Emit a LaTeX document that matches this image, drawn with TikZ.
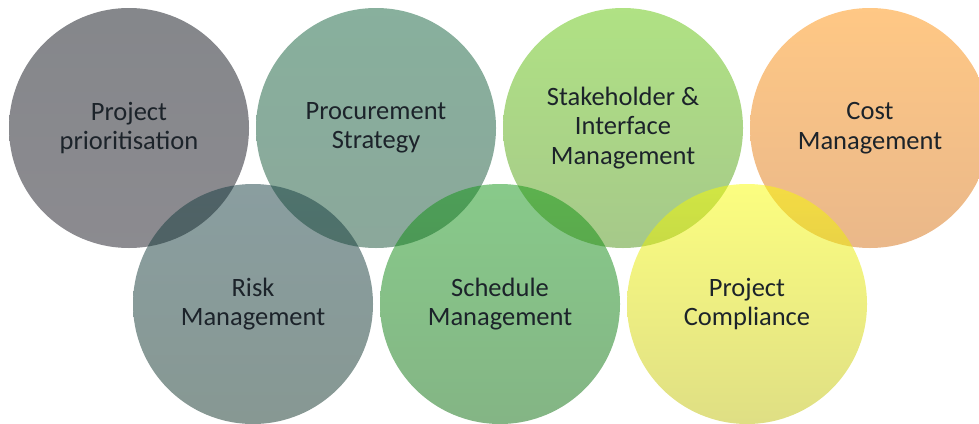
\documentclass[tikz,border=0pt]{standalone}
\usepackage{fontspec}
\setmainfont{Carlito}
\definecolor{Label}{HTML}{1C232A}
\definecolor{SlateTop}{HTML}{0B0F17}
\definecolor{SlateLow}{HTML}{191721}
\definecolor{PineTop}{HTML}{11613B}
\definecolor{PineLow}{HTML}{175137}
\definecolor{LimeTop}{HTML}{61C509}
\definecolor{LimeLow}{HTML}{4D9315}
\definecolor{AmberTop}{HTML}{FF910B}
\definecolor{AmberLow}{HTML}{D57115}
\definecolor{TealTop}{HTML}{153D41}
\definecolor{TealLow}{HTML}{0F3127}
\definecolor{LeafTop}{HTML}{119515}
\definecolor{LeafLow}{HTML}{096B0B}
\definecolor{SunTop}{HTML}{F9FD01}
\definecolor{SunLow}{HTML}{BFBF09}
\tikzset{
  ringbase/.style={circle,minimum size=240pt,inner sep=0pt,outer sep=0pt,draw=none,
    fill opacity=0.5,text opacity=1,text=Label,align=center,
    font=\fontsize{26.5}{29.5}\selectfont},
}

\begin{document}
\begin{tikzpicture}[x=1pt,y=-1pt]
    \useasboundingbox (0,0) rectangle (979,423);
    % top row
    \node[ringbase,top color=SlateTop,bottom color=SlateLow] (prior) at (129,128) {Project\\prioritisation};
    \node[ringbase,top color=PineTop,bottom color=PineLow] (procure) at (376,128) {Procurement\\Strategy};
    \node[ringbase,top color=LimeTop,bottom color=LimeLow] (stake) at (623,128) {Stakeholder \&\\Interface\\Management};
    \node[ringbase,top color=AmberTop,bottom color=AmberLow] (cost) at (870,128) {Cost\\Management};
    % bottom row
    \node[ringbase,top color=TealTop,bottom color=TealLow] (risk) at (253,304) {Risk\\Management};
    \node[ringbase,top color=LeafTop,bottom color=LeafLow] (sched) at (500,304) {Schedule\\Management};
    \node[ringbase,top color=SunTop,bottom color=SunLow] (comply) at (747,304) {Project\\Compliance};
  \end{tikzpicture}
\end{document}
